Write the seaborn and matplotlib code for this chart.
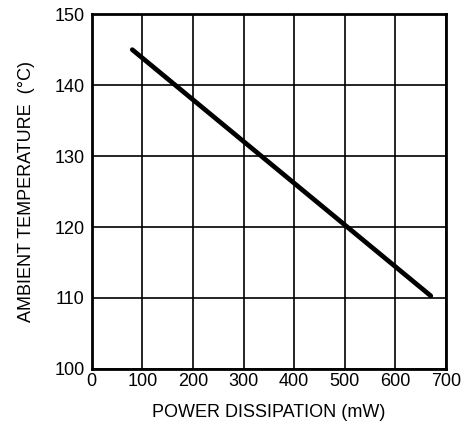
import pandas as pd
import matplotlib.pyplot as plt
import seaborn as sns

# Derating curve
power_mw = [80, 670]
ambient_c = [145.0, 110.3]

x_ticks = [0, 100, 200, 300, 400, 500, 600, 700]
y_ticks = [100, 110, 120, 130, 140, 150]

df = pd.DataFrame({"Power": power_mw, "Temp": ambient_c})

sns.set_style("white")
plt.rcParams["font.family"] = ["Liberation Sans", "DejaVu Sans"]
plt.rcParams["text.color"] = "black"
plt.rcParams["axes.labelcolor"] = "black"

fig = plt.figure(figsize=(4.66, 4.30), dpi=100)
ax = fig.add_axes([0.197, 0.142, 0.760, 0.825])

sns.lineplot(data=df, x="Power", y="Temp", color="black", linewidth=3.4, ax=ax)

ax.set_xlim(0, 700)
ax.set_ylim(100, 150)
ax.set_xticks(x_ticks)
ax.set_yticks(y_ticks)
ax.grid(True, color="black", linewidth=1.2)
for s in ax.spines.values():
    s.set_color("black")
    s.set_linewidth(2)
ax.tick_params(axis="both", labelsize=13, colors="black", length=4, width=1.5, direction="out")
ax.tick_params(axis="x", length=0, pad=3)
ax.tick_params(axis="y", pad=1)
ax.set_xlabel("POWER DISSIPATION (mW)", fontsize=13, labelpad=10, color="black")
ax.set_ylabel("AMBIENT TEMPERATURE  (°C)", fontsize=13, labelpad=14, color="black")

fig.savefig("out.png", dpi=100)
